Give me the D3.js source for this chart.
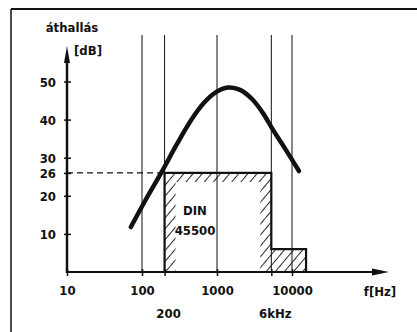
<!DOCTYPE html>
<html><head><meta charset="utf-8">
<script src="https://cdn.jsdelivr.net/npm/d3@7/dist/d3.min.js"></script>
<style>
html,body{margin:0;padding:0;background:#fff;}
text{font-family:"DejaVu Sans Condensed","DejaVu Sans",sans-serif;font-weight:bold;font-size:13px;fill:#111;}
</style></head>
<body>
<svg id="c" width="417" height="332"></svg>
<script>
// ---- data ----
const curveFreq = [71, 113, 185, 293, 464, 671, 970, 1400, 2030, 2930, 4100, 5580, 8320, 12400];
const curveDb   = [11.8, 19.1, 26.4, 33.6, 40.2, 44.4, 47.2, 48.4, 47.8, 45.4, 41.7, 37.3, 32.0, 26.5];
const gridFreq  = [100, 200, 1000, 5300, 10000];
const yTickValues = [10, 20, 26, 30, 40, 50];
const xTickValues = [10, 100, 1000, 10000];
const xMinorTicks = [200, 5300];
const maskFreq = [200, 200, 5300, 5300, 15400, 15400];
const maskDb   = [0, 26, 26, 6, 6, 0];
const refDb = 26;
const subLabelFreq = [200, 6000];
const subLabelText = ["200", "6kHz"];

// ---- layout ----
const svg = d3.select("#c");
const x = d3.scaleLog().domain([10, 10000]).range([67, 292]);
const y = d3.scaleLinear().domain([0, 50]).range([272, 81.5]);
const ink = "#111";

// frame
svg.append("line").attr("x1",11).attr("x2",417).attr("y1",9).attr("y2",9).attr("stroke",ink).attr("stroke-width",2);
svg.append("line").attr("x1",11).attr("x2",11).attr("y1",9).attr("y2",332).attr("stroke",ink).attr("stroke-width",1.5);

// hatch pattern
const defs = svg.append("defs");
const pat = defs.append("pattern").attr("id","hatch").attr("patternUnits","userSpaceOnUse")
  .attr("width",7).attr("height",7).attr("patternTransform","rotate(40)");
pat.append("line").attr("x1",0).attr("y1",0).attr("x2",0).attr("y2",7).attr("stroke",ink).attr("stroke-width",1.8);

// vertical grid lines
svg.append("g").selectAll("line").data(gridFreq).join("line")
  .attr("x1",d=>x(d)).attr("x2",d=>x(d)).attr("y1",35).attr("y2",y(0))
  .attr("stroke",ink).attr("stroke-width",1);

// dashed reference
svg.append("line").attr("x1",x(10)).attr("x2",x(200)).attr("y1",y(refDb)).attr("y2",y(refDb))
  .attr("stroke",ink).attr("stroke-width",1.2).attr("stroke-dasharray","6,4");

// mask hatch band
const mpts = maskFreq.map((f,i)=>[x(f), y(maskDb[i])]);
const outer = "M" + mpts.map(p=>p.join(",")).join("L") + "Z";
const ix0 = x(200)+11, ix1 = x(5300)-11, iy0 = y(26)+9, iy1 = y(0);
const inner = `M${ix0},${iy0}L${ix1},${iy0}L${ix1},${iy1}L${ix0},${iy1}Z`;
svg.append("path").attr("d", outer + inner).attr("fill","url(#hatch)").attr("fill-rule","evenodd");
svg.append("path").attr("d", d3.line()(mpts)).attr("fill","none").attr("stroke",ink).attr("stroke-width",2.2);

// curve
const line = d3.line().x((d,i)=>x(curveFreq[i])).y(d=>y(d)).curve(d3.curveCatmullRom.alpha(0.5));
svg.append("path").attr("d", line(curveDb)).attr("fill","none").attr("stroke",ink)
  .attr("stroke-width",4.5).attr("stroke-linecap","round").attr("stroke-linejoin","round");

// y axis
const ya = svg.append("g").attr("transform",`translate(${x(10)},0)`)
  .call(d3.axisLeft(y).tickValues(yTickValues).tickSize(3).tickPadding(8).tickFormat(d3.format("d")));
ya.select(".domain").remove();
ya.selectAll(".tick line").attr("x1",4).attr("stroke",ink).attr("stroke-width",1.5);
ya.selectAll(".tick text").attr("dy","0.36em");
svg.append("line").attr("x1",x(10)).attr("x2",x(10)).attr("y1",y(0)+1).attr("y2",58).attr("stroke",ink).attr("stroke-width",2.5);
svg.append("path").attr("d",`M${x(10)},46L${x(10)+3},63L${x(10)-3},63Z`).attr("fill",ink);

// x axis
const xa = svg.append("g").attr("transform",`translate(0,${y(0)})`)
  .call(d3.axisBottom(x).tickValues(xTickValues.concat(xMinorTicks)).tickSize(4).tickPadding(10)
    .tickFormat(d=>xTickValues.includes(d)?d3.format("d")(d):""));
xa.select(".domain").remove();
xa.selectAll(".tick line").attr("y1",-3).attr("stroke",ink).attr("stroke-width",1.5);
xa.selectAll(".tick text").attr("y",14).attr("dy","0.71em");
svg.append("line").attr("x1",x(10)-1).attr("x2",378).attr("y1",y(0)).attr("y2",y(0)).attr("stroke",ink).attr("stroke-width",2);
svg.append("path").attr("d",`M389,${y(0)}L372,${y(0)-3.5}L372,${y(0)+3.5}Z`).attr("fill",ink);

// sub labels
svg.append("g").selectAll("text").data(subLabelFreq).join("text")
  .attr("x",(d,i)=>x(d)+(i===0?4:0)).attr("y",318).attr("text-anchor","middle").text((d,i)=>subLabelText[i]);

// titles
svg.append("text").attr("x",72).attr("y",32).attr("text-anchor","middle").text("áthallás");
svg.append("text").attr("x",88).attr("y",55).attr("text-anchor","middle").text("[dB]");
svg.append("text").attr("x",380).attr("y",296).attr("text-anchor","middle").text("f[Hz]");
svg.append("text").attr("x",195).attr("y",215).attr("text-anchor","middle").text("DIN");
svg.append("text").attr("x",195).attr("y",235).attr("text-anchor","middle").text("45500");
</script>
</body></html>
